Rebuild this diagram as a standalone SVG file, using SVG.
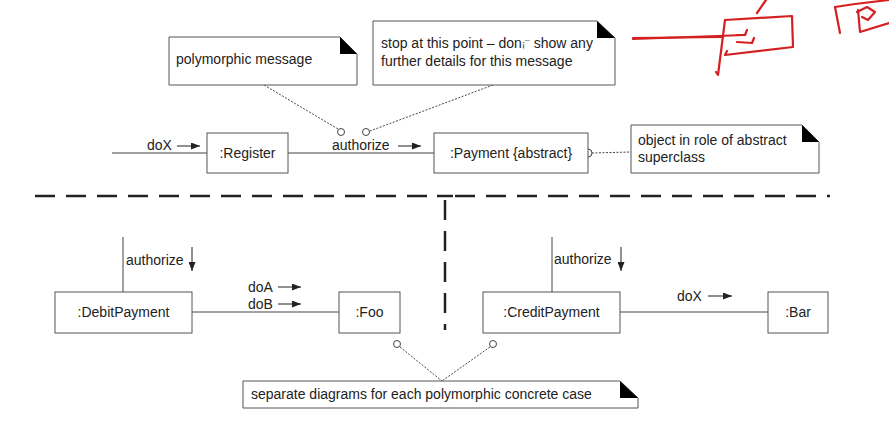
<svg xmlns="http://www.w3.org/2000/svg" width="889" height="447" viewBox="0 0 889 447">
<style>
text{font-family:"Liberation Sans",Arial,sans-serif;font-size:14px;fill:#222}
.box{fill:#fff;stroke:#555;stroke-width:1}
.note{fill:#fff;stroke:#555;stroke-width:1}
.fold{fill:#000}
.ln{stroke:#444;stroke-width:1;fill:none}
.dot{stroke:#444;stroke-width:1;stroke-dasharray:2 1.5;fill:none}
.circ{fill:#fff;stroke:#444;stroke-width:1}
.sep{stroke:#222;stroke-width:2.5;stroke-dasharray:20 11;fill:none}
.arr{stroke:#222;stroke-width:1;fill:none;marker-end:url(#ah)}
.red{stroke:#d42020;stroke-width:2.2;fill:none;stroke-linecap:round;stroke-linejoin:round}
</style>
<defs>
<marker id="ah" viewBox="0 0 9 7" refX="9" refY="3.5" markerWidth="9" markerHeight="7" markerUnits="userSpaceOnUse" orient="auto">
<path d="M0,0 L9,3.5 L0,7 Z" fill="#222"/>
</marker>
</defs>
<rect width="889" height="447" fill="#fff"/>

<g id="connectors">
<line class="ln" x1="112" y1="153" x2="207" y2="153"/>
<line class="ln" x1="288" y1="153" x2="434" y2="153"/>
<line class="ln" x1="123" y1="237" x2="123" y2="292"/>
<line class="ln" x1="192" y1="312" x2="339" y2="312"/>
<line class="ln" x1="552" y1="237" x2="552" y2="292"/>
<line class="ln" x1="620" y1="312" x2="768" y2="312"/>
<line class="dot" x1="264" y1="85" x2="338" y2="129"/>
<line class="dot" x1="493" y1="85" x2="370" y2="131"/>
<line class="dot" x1="592" y1="153" x2="631" y2="152"/>
<line class="dot" x1="400" y1="347" x2="442" y2="381"/>
<line class="dot" x1="490" y1="347" x2="442" y2="381"/>
<circle class="circ" cx="341" cy="132" r="3.5"/>
<circle class="circ" cx="366" cy="132" r="3.5"/>
<circle class="circ" cx="588" cy="153" r="4"/>
<circle class="circ" cx="397" cy="344" r="3.5"/>
<circle class="circ" cx="493" cy="344" r="3.5"/>
<text x="147" y="150">doX</text>
<line class="arr" x1="177" y1="146" x2="200" y2="146"/>
<text x="332" y="150">authorize</text>
<line class="arr" x1="398" y1="146" x2="421" y2="146"/>
<text x="126" y="265">authorize</text>
<line class="arr" x1="192" y1="247" x2="192" y2="271"/>
<text x="248" y="292">doA</text>
<line class="arr" x1="278" y1="287" x2="301" y2="287"/>
<text x="248" y="309">doB</text>
<line class="arr" x1="278" y1="304" x2="301" y2="304"/>
<text x="554" y="264">authorize</text>
<line class="arr" x1="621" y1="247" x2="621" y2="271"/>
<text x="677" y="301">doX</text>
<line class="arr" x1="708" y1="296" x2="732" y2="296"/>
</g>

<g id="separator">
<line class="sep" x1="35" y1="196" x2="437" y2="196"/>
<line class="sep" x1="455" y1="196" x2="830" y2="196"/>
<line stroke="#222" stroke-width="2.5" x1="437" y1="196" x2="453" y2="196"/>
<line class="sep" x1="445" y1="196" x2="445" y2="330" stroke-dashoffset="-4"/>
</g>

<g id="register">
<rect class="box" x="207" y="133" width="81" height="40"/>
<text x="247.5" y="158" text-anchor="middle">:Register</text>
</g>
<g id="payment">
<rect class="box" x="434" y="133" width="154" height="40"/>
<text x="511" y="158" text-anchor="middle">:Payment {abstract}</text>
</g>
<g id="debitpayment">
<rect class="box" x="55" y="292" width="137" height="41"/>
<text x="123.5" y="317" text-anchor="middle">:DebitPayment</text>
</g>
<g id="foo">
<rect class="box" x="339" y="292" width="61" height="41"/>
<text x="369.5" y="317" text-anchor="middle">:Foo</text>
</g>
<g id="creditpayment">
<rect class="box" x="483" y="292" width="137" height="41"/>
<text x="551.5" y="317" text-anchor="middle">:CreditPayment</text>
</g>
<g id="bar">
<rect class="box" x="768" y="292" width="60" height="41"/>
<text x="798" y="317" text-anchor="middle">:Bar</text>
</g>

<g id="note-polymorphic">
<path class="note" d="M169,37 H340 L357,54 V85 H169 Z"/>
<path class="fold" d="M340,37 L357,54 H340 Z"/>
<text x="176" y="64">polymorphic message</text>
</g>
<g id="note-stop">
<path class="note" d="M373,21 H597 L615,38 V85 H373 Z"/>
<path class="fold" d="M597,21 L615,38 H597 Z"/>
<text x="381" y="48">stop at this point – don<tspan font-size="9" dy="-1">¡¯</tspan><tspan dy="1"> show any</tspan></text>
<text x="381" y="66">further details for this message</text>
</g>
<g id="note-object">
<path class="note" d="M631,125 H802 L819,142 V173 H631 Z"/>
<path class="fold" d="M802,125 L819,142 H802 Z"/>
<text x="638" y="145">object in role of abstract</text>
<text x="638" y="162">superclass</text>
</g>
<g id="note-separate">
<path class="note" d="M243,381 H620 L638,398 V408 H243 Z"/>
<path class="fold" d="M620,381 L638,398 H620 Z"/>
<text x="251" y="399">separate diagrams for each polymorphic concrete case</text>
</g>

<g id="red-annotation">
<path class="red" d="M633,38 L723,37"/>
<path class="red" d="M633,39 L745,35"/>
<path class="red" d="M737,35 L745,35 L747,30"/>
<path class="red" d="M737,42 L752,43 L754,38"/>
<path class="red" d="M725,20 L792,16 L793,47 L725,55 L727,51"/>
<path class="red" d="M725,20 L718,75 L716,72"/>
<path class="red" d="M757,13 L766,0"/>
<path class="red" d="M835,7 L840,33"/>
<path class="red" d="M835,7 L855,4 L889,0"/>
<path class="red" d="M857,12 L867,7 L875,12 L868,20 L862,17"/>
<path class="red" d="M858,10 L860,32 L889,23"/>
</g>
</svg>
